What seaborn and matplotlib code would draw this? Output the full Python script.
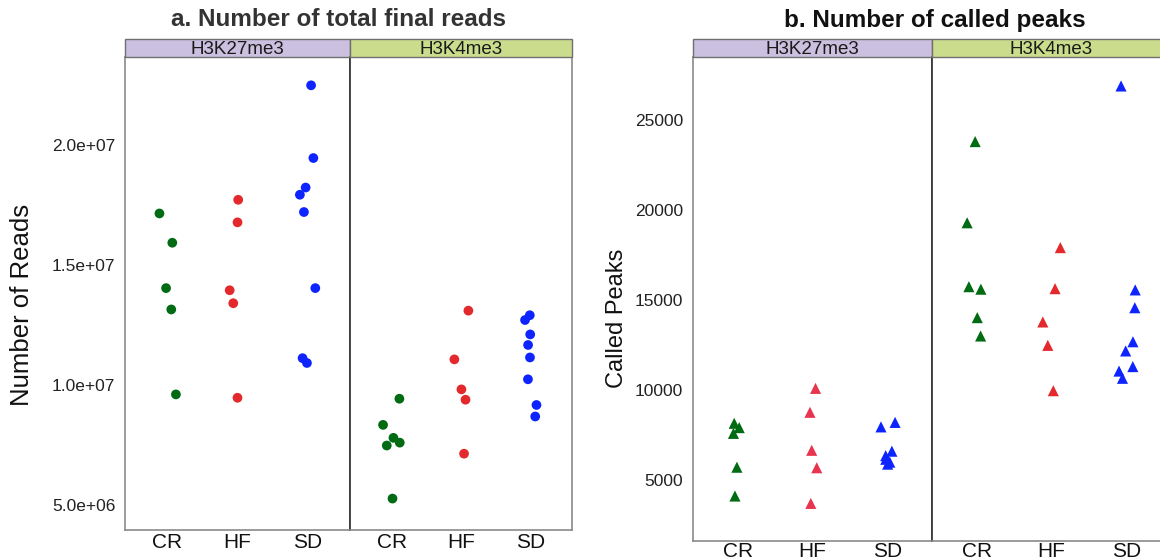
import numpy as np
import pandas as pd
import matplotlib
matplotlib.use("Agg")
import matplotlib.pyplot as plt
from matplotlib.patches import Rectangle
import seaborn as sns

# Categories
groups = ["CR", "HF", "SD"]
marks = ["H3K27me3", "H3K4me3"]

# a. total final reads per sample
reads_k27_cr = [17.15e6, 15.93e6, 14.04e6, 13.15e6, 9.61e6]
reads_k27_hf = [17.72e6, 16.78e6, 13.95e6, 13.41e6, 9.47e6]
reads_k27_sd = [22.49e6, 19.46e6, 18.23e6, 17.93e6, 17.21e6, 14.04e6, 11.12e6, 10.92e6]
reads_k4_cr = [9.43e6, 8.34e6, 7.80e6, 7.60e6, 7.48e6, 5.27e6]
reads_k4_hf = [13.10e6, 11.07e6, 9.82e6, 9.39e6, 7.14e6]
reads_k4_sd = [12.91e6, 12.71e6, 12.11e6, 11.67e6, 11.15e6, 10.24e6, 9.17e6, 8.69e6]

# b. called peaks per sample
peaks_k27_cr = [8150, 7910, 7590, 5710, 4110]
peaks_k27_hf = [10090, 8760, 6650, 5680, 3700]
peaks_k27_sd = [8200, 7950, 6600, 6350, 6150, 5990, 5880]
peaks_k4_cr = [23800, 19290, 15740, 15600, 14020, 13000]
peaks_k4_hf = [17910, 15630, 13780, 12480, 9960]
peaks_k4_sd = [26890, 15560, 14570, 12680, 12170, 11300, 11050, 10650]

reads_ticks = [5e6, 1e7, 1.5e7, 2e7]
peaks_ticks = [5000, 10000, 15000, 20000, 25000]

GREEN, RED, PINK, BLUE = "#006b12", "#e3292c", "#e8354f", "#0d24ff"
strip_colors = {"H3K27me3": "#cbc0df", "H3K4me3": "#cbdc8c"}


def long_table(cr, hf, sd):
    vals = list(cr) + list(hf) + list(sd)
    grp = ["CR"] * len(cr) + ["HF"] * len(hf) + ["SD"] * len(sd)
    return pd.DataFrame({"group": grp, "value": vals})


sns.set_theme(style="white")
plt.rcParams["font.family"] = ["Liberation Sans", "DejaVu Sans"]
np.random.seed(7)

W, H = 1160, 559
fig = plt.figure(figsize=(W / 100, H / 100), dpi=100)


def ax_px(x0, y0, x1, y1):
    return fig.add_axes([x0 / W, 1 - y1 / H, (x1 - x0) / W, (y1 - y0) / H])


def facet(ax, data, palette, marker, size, ylim, ticks, fmt, show_y, strip,
          left_dark, xpad):
    sns.stripplot(data=data, x="group", y="value", hue="group", order=groups,
                  hue_order=groups, palette=palette, marker=marker, size=size,
                  jitter=0.13, linewidth=0, legend=False, ax=ax, zorder=3)
    ax.set_xlim(-0.6, 2.6)
    ax.set_ylim(*ylim)
    ax.set_xlabel("")
    ax.set_ylabel("")
    ax.set_yticks(ticks)
    ax.set_yticklabels([fmt(t) for t in ticks] if show_y else [])
    ax.tick_params(axis="x", length=0, pad=xpad, labelsize=15, labelcolor="#111111")
    ax.tick_params(axis="y", length=5 if show_y else 0, width=1, color="#888888",
                   pad=2, labelsize=12.5, labelcolor="#222222", direction="out")
    for side in ("top", "right", "bottom", "left"):
        ax.spines[side].set_color("#8a8a8a")
        ax.spines[side].set_linewidth(1.2)
    if left_dark:
        ax.spines["left"].set_color("#2a2a2a")
    h = 18 / (ax.get_position().height * H)
    ax.add_patch(Rectangle((0, 1), 1, h, transform=ax.transAxes, clip_on=False,
                           facecolor=strip_colors[strip], edgecolor="#6f6f6f",
                           linewidth=1.0, zorder=5))
    ax.text(0.5, 1 + h / 2, strip, transform=ax.transAxes, ha="center",
            va="center_baseline", fontsize=13.5, color="#1a1a1a", zorder=6)


sci = lambda t: f"{t:.1e}"
num = lambda t: f"{int(t)}"

# panel a
ylim_a = (3.96e6, 2.367e7)
a1 = ax_px(125, 57, 350, 530)
a2 = ax_px(350, 57, 572, 530)
facet(a1, long_table(reads_k27_cr, reads_k27_hf, reads_k27_sd), [GREEN, RED, BLUE],
      "o", 7, ylim_a, reads_ticks, sci, True, "H3K27me3", False, 2)
facet(a2, long_table(reads_k4_cr, reads_k4_hf, reads_k4_sd), [GREEN, RED, BLUE],
      "o", 7, ylim_a, reads_ticks, sci, False, "H3K4me3", True, 2)
fig.text(338 / W, 1 - 20 / H, "a. Number of total final reads", ha="center",
         va="center", fontsize=17.5, fontweight="bold", color="#333333")
fig.text(22 / W, 1 - 305 / H, "Number of Reads", rotation=90, ha="center",
         va="center", fontsize=18.5, color="#111111")

# panel b
ylim_b = (1611, 28500)
b1 = ax_px(693, 57, 932, 541)
b2 = ax_px(932, 57, 1171, 541)
facet(b1, long_table(peaks_k27_cr, peaks_k27_hf, peaks_k27_sd), [GREEN, PINK, BLUE],
      "^", 8, ylim_b, peaks_ticks, num, True, "H3K27me3", False, 0.5)
facet(b2, long_table(peaks_k4_cr, peaks_k4_hf, peaks_k4_sd), [GREEN, RED, BLUE],
      "^", 8, ylim_b, peaks_ticks, num, False, "H3K4me3", True, 0.5)
fig.text(935 / W, 1 - 20 / H, "b. Number of called peaks", ha="center",
         va="center", fontsize=17.5, fontweight="bold", color="#111111")
fig.text(617 / W, 1 - 318 / H, "Called Peaks", rotation=90, ha="center",
         va="center", fontsize=17, color="#111111")

fig.savefig("out.png", dpi=100)
